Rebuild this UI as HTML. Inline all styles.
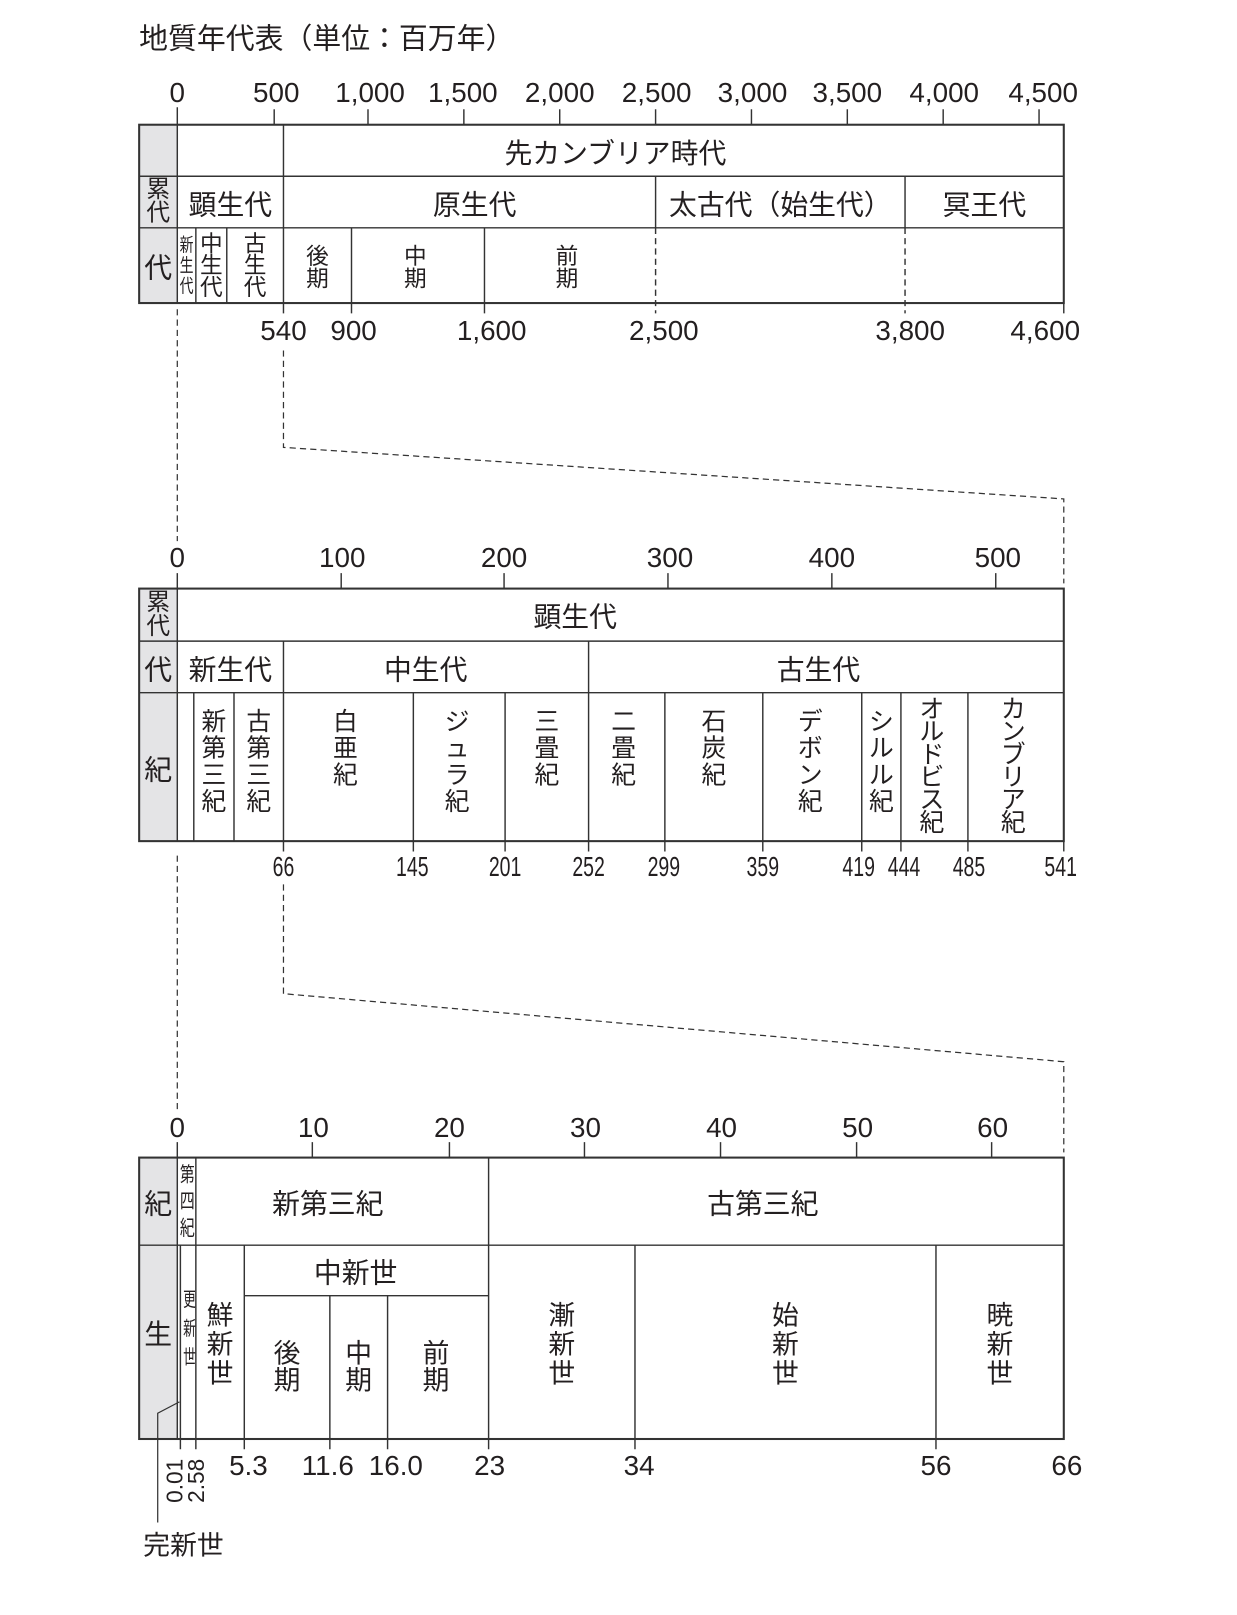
<!DOCTYPE html>
<html><head><meta charset="utf-8"><style>
html,body{margin:0;padding:0;background:#fff;width:1237px;height:1615px;overflow:hidden}
#w{position:absolute;left:0;top:0;width:1200px;height:1566px;transform:scale(1.0308);transform-origin:0 0;font-family:"Liberation Sans","Noto Sans CJK JP",sans-serif;color:#231f20}
svg{position:absolute;left:0;top:0}
.t{position:absolute;white-space:nowrap;line-height:1}
.c{position:absolute;display:flex;align-items:center;justify-content:center;text-align:center;white-space:nowrap}
.v{position:absolute;text-align:center;font-size:24px;line-height:26px}
.n{position:absolute;font-size:27px;line-height:1;transform:translateX(-50%);white-space:nowrap}
.m{position:absolute;font-size:27px;line-height:1;transform:translateX(-50%) scaleX(0.7);white-space:nowrap}
</style></head><body><div id="w">
<svg width="1200" height="1566" viewBox="0 0 1200 1566">
<g fill="#e4e4e6" stroke="none">
<rect x="135" y="121" width="37" height="173"/>
<rect x="135" y="571" width="37" height="245"/>
<rect x="135" y="1123" width="37" height="273"/>
</g>
<g stroke="#333" stroke-width="1.4" fill="none">
<rect x="135" y="121" width="897" height="173" stroke-width="2"/>
<line x1="172" y1="104" x2="172" y2="294"/>
<line x1="135" y1="171" x2="1032" y2="171"/>
<line x1="135" y1="221" x2="1032" y2="221"/>
<line x1="275" y1="121" x2="275" y2="304"/>
<line x1="636" y1="171" x2="636" y2="221"/>
<line x1="878" y1="171" x2="878" y2="221"/>
<line x1="636" y1="221" x2="636" y2="304" stroke-dasharray="6,4"/>
<line x1="878" y1="221" x2="878" y2="304" stroke-dasharray="6,4"/>
<line x1="190" y1="221" x2="190" y2="294"/>
<line x1="220" y1="221" x2="220" y2="294"/>
<line x1="341" y1="221" x2="341" y2="304"/>
<line x1="470" y1="221" x2="470" y2="304"/>
<line x1="1032" y1="294" x2="1032" y2="304"/>
<line x1="266" y1="106" x2="266" y2="121"/>
<line x1="357" y1="106" x2="357" y2="121"/>
<line x1="450" y1="106" x2="450" y2="121"/>
<line x1="543" y1="106" x2="543" y2="121"/>
<line x1="636" y1="106" x2="636" y2="121"/>
<line x1="729" y1="106" x2="729" y2="121"/>
<line x1="822" y1="106" x2="822" y2="121"/>
<line x1="915" y1="106" x2="915" y2="121"/>
<line x1="1008" y1="106" x2="1008" y2="121"/>
<g stroke-dasharray="6,4" stroke-width="1.2">
<line x1="172" y1="300" x2="172" y2="525"/>
<polyline points="275,340 275,434 1032,484 1032,566"/>
<line x1="172" y1="830" x2="172" y2="1078"/>
<polyline points="275,858 275,964 1032,1030 1032,1118"/>
</g>
<rect x="135" y="571" width="897" height="245" stroke-width="2"/>
<line x1="172" y1="556" x2="172" y2="816"/>
<line x1="135" y1="622" x2="1032" y2="622"/>
<line x1="135" y1="672" x2="1032" y2="672"/>
<line x1="275" y1="622" x2="275" y2="826"/>
<line x1="571" y1="622" x2="571" y2="826"/>
<line x1="188" y1="672" x2="188" y2="816"/>
<line x1="227" y1="672" x2="227" y2="816"/>
<line x1="401" y1="672" x2="401" y2="826"/>
<line x1="490" y1="672" x2="490" y2="826"/>
<line x1="645" y1="672" x2="645" y2="826"/>
<line x1="740" y1="672" x2="740" y2="826"/>
<line x1="836" y1="672" x2="836" y2="826"/>
<line x1="874" y1="672" x2="874" y2="826"/>
<line x1="939" y1="672" x2="939" y2="826"/>
<line x1="1032" y1="816" x2="1032" y2="826"/>
<line x1="331" y1="556" x2="331" y2="571"/>
<line x1="489" y1="556" x2="489" y2="571"/>
<line x1="648" y1="556" x2="648" y2="571"/>
<line x1="807" y1="556" x2="807" y2="571"/>
<line x1="966" y1="556" x2="966" y2="571"/>
<rect x="135" y="1123" width="897" height="273" stroke-width="2"/>
<line x1="172" y1="1108" x2="172" y2="1396"/>
<line x1="135" y1="1208" x2="1032" y2="1208"/>
<line x1="237" y1="1257" x2="474" y2="1257"/>
<line x1="175" y1="1208" x2="175" y2="1406"/>
<line x1="190" y1="1123" x2="190" y2="1406"/>
<line x1="237" y1="1208" x2="237" y2="1406"/>
<line x1="320" y1="1257" x2="320" y2="1406"/>
<line x1="376" y1="1257" x2="376" y2="1406"/>
<line x1="474" y1="1123" x2="474" y2="1406"/>
<line x1="616" y1="1208" x2="616" y2="1406"/>
<line x1="908" y1="1208" x2="908" y2="1406"/>
<line x1="303" y1="1108" x2="303" y2="1123"/>
<line x1="436" y1="1108" x2="436" y2="1123"/>
<line x1="567" y1="1108" x2="567" y2="1123"/>
<line x1="699" y1="1108" x2="699" y2="1123"/>
<line x1="831" y1="1108" x2="831" y2="1123"/>
<line x1="962" y1="1108" x2="962" y2="1123"/>
<polyline points="174,1360 153,1371 153,1477" stroke-width="1.2"/>
</g>
</svg>

<div class="t" style="left:135px;top:24px;font-size:28px">地質年代表（単位：百万年）</div>

<div class="n" style="left:172px;top:77px">0</div>
<div class="n" style="left:268px;top:77px">500</div>
<div class="n" style="left:359px;top:77px">1,000</div>
<div class="n" style="left:449px;top:77px">1,500</div>
<div class="n" style="left:543px;top:77px">2,000</div>
<div class="n" style="left:637px;top:77px">2,500</div>
<div class="n" style="left:730px;top:77px">3,000</div>
<div class="n" style="left:822px;top:77px">3,500</div>
<div class="n" style="left:916px;top:77px">4,000</div>
<div class="n" style="left:1012px;top:77px">4,500</div>

<div class="c" style="left:172px;top:121px;width:850px;height:50px;font-size:27px">先カンブリア時代</div>
<div class="v" style="left:135px;top:172px;width:37px;font-size:23px;line-height:23px">累<br>代</div>
<div class="c" style="left:172px;top:171px;width:103px;height:50px;font-size:27px">顕生代</div>
<div class="c" style="left:285px;top:171px;width:351px;height:50px;font-size:27px">原生代</div>
<div class="c" style="left:636px;top:171px;width:242px;height:50px;font-size:27px">太古代（始生代）</div>
<div class="c" style="left:878px;top:171px;width:154px;height:50px;font-size:27px">冥王代</div>
<div class="c" style="left:135px;top:221px;width:37px;height:73px;font-size:27px">代</div>
<div class="v" style="left:172px;top:228px;width:18px;font-size:18px;line-height:20px;transform:scaleX(0.75)">新<br>生<br>代</div>
<div class="v" style="left:190px;top:226px;width:30px;font-size:22px;line-height:21px">中<br>生<br>代</div>
<div class="v" style="left:220px;top:226px;width:55px;font-size:22px;line-height:21px">古<br>生<br>代</div>
<div class="v" style="left:275px;top:238px;width:66px;font-size:22px;line-height:22px">後<br>期</div>
<div class="v" style="left:341px;top:238px;width:124px;font-size:22px;line-height:22px">中<br>期</div>
<div class="v" style="left:470px;top:238px;width:160px;font-size:22px;line-height:22px">前<br>期</div>

<div class="n" style="left:275px;top:308px">540</div>
<div class="n" style="left:343px;top:308px">900</div>
<div class="n" style="left:477px;top:308px">1,600</div>
<div class="n" style="left:644px;top:308px">2,500</div>
<div class="n" style="left:883px;top:308px">3,800</div>
<div class="n" style="left:1014px;top:308px">4,600</div>

<div class="n" style="left:172px;top:528px">0</div>
<div class="n" style="left:332px;top:528px">100</div>
<div class="n" style="left:489px;top:528px">200</div>
<div class="n" style="left:650px;top:528px">300</div>
<div class="n" style="left:807px;top:528px">400</div>
<div class="n" style="left:968px;top:528px">500</div>

<div class="v" style="left:135px;top:573px;width:37px;font-size:23px;line-height:23px">累<br>代</div>
<div class="c" style="left:172px;top:571px;width:772px;height:51px;font-size:27px">顕生代</div>
<div class="c" style="left:135px;top:622px;width:37px;height:50px;font-size:27px">代</div>
<div class="c" style="left:172px;top:622px;width:103px;height:50px;font-size:27px">新生代</div>
<div class="c" style="left:275px;top:622px;width:276px;height:50px;font-size:27px">中生代</div>
<div class="c" style="left:571px;top:622px;width:446px;height:50px;font-size:27px">古生代</div>
<div class="c" style="left:135px;top:672px;width:37px;height:144px;font-size:27px">紀</div>
<div class="v" style="left:188px;top:688px;width:39px">新<br>第<br>三<br>紀</div>
<div class="v" style="left:227px;top:688px;width:48px">古<br>第<br>三<br>紀</div>
<div class="v" style="left:275px;top:688px;width:120px">白<br>亜<br>紀</div>
<div class="v" style="left:401px;top:688px;width:85px">ジ<br>ュ<br>ラ<br>紀</div>
<div class="v" style="left:490px;top:688px;width:81px">三<br>畳<br>紀</div>
<div class="v" style="left:571px;top:688px;width:68px">二<br>畳<br>紀</div>
<div class="v" style="left:645px;top:688px;width:95px">石<br>炭<br>紀</div>
<div class="v" style="left:740px;top:688px;width:92px">デ<br>ボ<br>ン<br>紀</div>
<div class="v" style="left:836px;top:688px;width:38px">シ<br>ル<br>ル<br>紀</div>
<div class="v" style="left:874px;top:678px;width:60px;line-height:22px">オ<br>ル<br>ド<br>ビ<br>ス<br>紀</div>
<div class="v" style="left:939px;top:678px;width:88px;line-height:22px">カ<br>ン<br>ブ<br>リ<br>ア<br>紀</div>

<div class="m" style="left:275px;top:828px">66</div>
<div class="m" style="left:400px;top:828px">145</div>
<div class="m" style="left:490px;top:828px">201</div>
<div class="m" style="left:571px;top:828px">252</div>
<div class="m" style="left:644px;top:828px">299</div>
<div class="m" style="left:740px;top:828px">359</div>
<div class="m" style="left:833px;top:828px">419</div>
<div class="m" style="left:877px;top:828px">444</div>
<div class="m" style="left:940px;top:828px">485</div>
<div class="m" style="left:1029px;top:828px">541</div>

<div class="n" style="left:172px;top:1081px">0</div>
<div class="n" style="left:304px;top:1081px">10</div>
<div class="n" style="left:436px;top:1081px">20</div>
<div class="n" style="left:568px;top:1081px">30</div>
<div class="n" style="left:700px;top:1081px">40</div>
<div class="n" style="left:832px;top:1081px">50</div>
<div class="n" style="left:963px;top:1081px">60</div>

<div class="c" style="left:135px;top:1123px;width:37px;height:85px;font-size:27px">紀</div>
<div class="v" style="left:172px;top:1127px;width:18px;font-size:20px;line-height:26px;transform:scaleX(0.72)">第<br>四<br>紀</div>
<div class="c" style="left:190px;top:1123px;width:256px;height:85px;font-size:27px">新第三紀</div>
<div class="c" style="left:474px;top:1123px;width:532px;height:85px;font-size:27px">古第三紀</div>
<div class="c" style="left:135px;top:1208px;width:37px;height:168px;font-size:27px">生</div>
<div class="v" style="left:175px;top:1248px;width:15px;font-size:19px;line-height:28px;transform:scaleX(0.65)">更<br>新<br>世</div>
<div class="v" style="left:190px;top:1262px;width:47px;font-size:26px;line-height:28px">鮮<br>新<br>世</div>
<div class="c" style="left:237px;top:1208px;width:216px;height:49px;font-size:27px">中新世</div>
<div class="v" style="left:237px;top:1300px;width:83px;font-size:26px;line-height:26px">後<br>期</div>
<div class="v" style="left:320px;top:1300px;width:56px;font-size:26px;line-height:26px">中<br>期</div>
<div class="v" style="left:376px;top:1300px;width:94px;font-size:26px;line-height:26px">前<br>期</div>
<div class="v" style="left:474px;top:1262px;width:142px;font-size:26px;line-height:28px">漸<br>新<br>世</div>
<div class="v" style="left:616px;top:1262px;width:292px;font-size:26px;line-height:28px">始<br>新<br>世</div>
<div class="v" style="left:908px;top:1262px;width:124px;font-size:26px;line-height:28px">暁<br>新<br>世</div>

<div class="t" style="left:159px;top:1458px;font-size:22px;transform:rotate(-90deg);transform-origin:0 0;">0.01</div>
<div class="t" style="left:180px;top:1458px;font-size:22px;transform:rotate(-90deg);transform-origin:0 0;">2.58</div>
<div class="n" style="left:241px;top:1409px">5.3</div>
<div class="n" style="left:318px;top:1409px">11.6</div>
<div class="n" style="left:384px;top:1409px">16.0</div>
<div class="n" style="left:475px;top:1409px">23</div>
<div class="n" style="left:620px;top:1409px">34</div>
<div class="n" style="left:908px;top:1409px">56</div>
<div class="n" style="left:1035px;top:1409px">66</div>
<div class="t" style="left:139px;top:1486px;font-size:26px">完新世</div>
</div></body></html>
